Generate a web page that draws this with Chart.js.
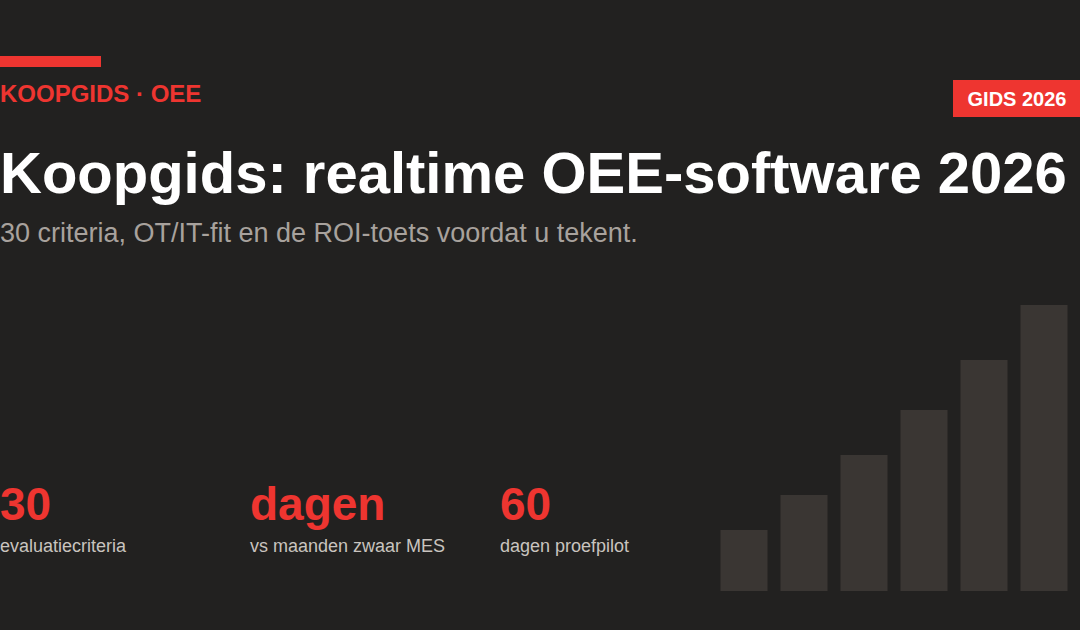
<!DOCTYPE html>
<html>
<head>
<meta charset="utf-8">
<script src="https://cdn.jsdelivr.net/npm/chart.js@4"></script>
<style>
  html, body { margin: 0; padding: 0; }
  body {
    width: 1080px; height: 630px; overflow: hidden; position: relative;
    background: #222120; font-family: "Liberation Sans", Arial, sans-serif;
  }
  .accent { position: absolute; left: 0; top: 56px; width: 101px; height: 11px; background: #ee3530; }
  .kicker { position: absolute; left: 0; top: 80px; font-size: 24px; font-weight: bold; color: #ee3530; }
  .badge {
    position: absolute; left: 953px; top: 80px; width: 127px; height: 37px;
    background: #ee3530; color: #fff; font-size: 20px; font-weight: bold;
    line-height: 39px; text-align: center; box-sizing: border-box; padding-left: 1px;
  }
  h1 { position: absolute; left: 0; top: 140px; margin: 0; font-size: 58px; font-weight: bold; color: #fff; line-height: 66px; white-space: nowrap; }
  .sub { position: absolute; left: 0; top: 218px; font-size: 27px; color: #a8a29d; white-space: nowrap; }
  .stat { position: absolute; top: 478px; }
  .stat .num { font-size: 46px; font-weight: bold; color: #ee3530; line-height: 52px; }
  .stat .lbl { font-size: 18px; color: #c9c4bf; margin-top: 6px; }
  #wrap { position: absolute; left: 713.5px; top: 305px; width: 360px; height: 286px; }
</style>
</head>
<body>
<div class="accent"></div>
<div class="kicker">KOOPGIDS · OEE</div>
<div class="badge">GIDS 2026</div>
<h1>Koopgids: realtime OEE-software 2026</h1>
<div class="sub">30 criteria, OT/IT-fit en de ROI-toets voordat u tekent.</div>

<div class="stat" style="left:0"><div class="num">30</div><div class="lbl">evaluatiecriteria</div></div>
<div class="stat" style="left:250px"><div class="num">dagen</div><div class="lbl">vs maanden zwaar MES</div></div>
<div class="stat" style="left:500px"><div class="num">60</div><div class="lbl">dagen proefpilot</div></div>

<div id="wrap"><canvas id="bars"></canvas></div>

<script>
// decoratieve staafjes rechtsonder
var barLabels = ["1", "2", "3", "4", "5", "6"];
var barValues = [61, 96, 136, 181, 231, 286];

new Chart(document.getElementById("bars").getContext("2d"), {
  type: "bar",
  data: {
    labels: barLabels,
    datasets: [
      {
        data: barValues,
        backgroundColor: "#3a3633",
        borderWidth: 0,
        barPercentage: 1,
        categoryPercentage: 47 / 60,
      },
    ],
  },
  options: {
    responsive: true,
    maintainAspectRatio: false,
    animation: false,
    layout: { padding: 0 },
    plugins: { legend: { display: false }, tooltip: { enabled: false } },
    scales: {
      x: { display: false },
      y: { display: false, min: 0, max: 286 },
    },
  },
});
</script>
</body>
</html>
